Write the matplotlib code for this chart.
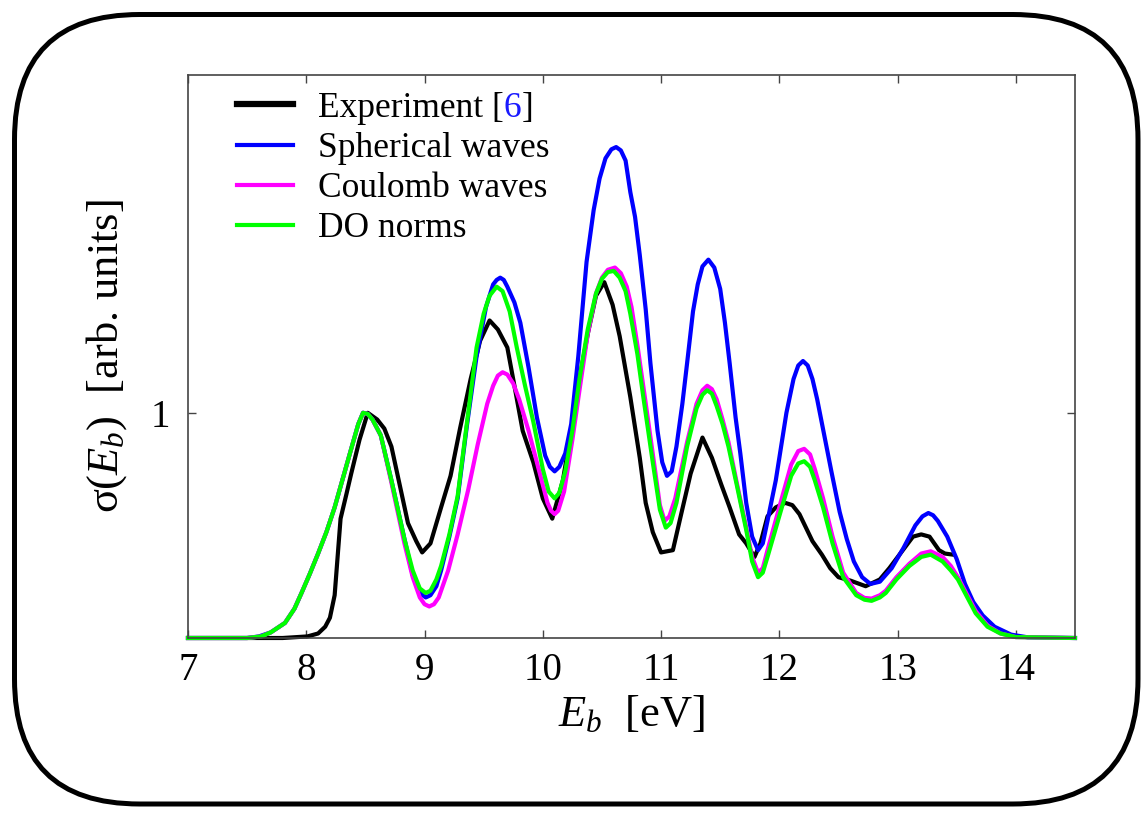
import matplotlib.pyplot as plt
from matplotlib.patches import FancyBboxPatch

plt.rcParams['font.family'] = ['Liberation Serif', 'DejaVu Serif']
plt.rcParams['mathtext.fontset'] = 'custom'
plt.rcParams['mathtext.rm'] = 'Liberation Serif'
plt.rcParams['mathtext.it'] = 'Liberation Serif:italic'

# Experiment [6]
exp_e = [7.0, 7.8, 8.01, 8.10, 8.16, 8.20, 8.24, 8.29, 8.34, 8.38,
         8.45, 8.52, 8.60, 8.66, 8.72, 8.79, 8.86, 8.93, 8.98, 9.05,
         9.14, 9.22, 9.30, 9.39, 9.47, 9.55, 9.62, 9.70, 9.76, 9.83,
         9.92, 10.00, 10.08, 10.17, 10.24, 10.30, 10.38, 10.45, 10.52, 10.59,
         10.65, 10.74, 10.82, 10.87, 10.93, 11.00, 11.10, 11.17, 11.25, 11.35,
         11.43, 11.51, 11.58, 11.66, 11.72, 11.79, 11.84, 11.90, 11.97, 12.05,
         12.11, 12.17, 12.28, 12.36, 12.43, 12.50, 12.60, 12.73, 12.85, 12.93,
         13.03, 13.13, 13.20, 13.27, 13.35, 13.40, 13.47]
exp_sigma = [0, 0, 0.007, 0.02, 0.05, 0.09, 0.19, 0.53, 0.64, 0.73,
             0.88, 1.0, 0.97, 0.93, 0.85, 0.68, 0.51, 0.43, 0.38, 0.42,
             0.58, 0.72, 0.93, 1.15, 1.32, 1.41, 1.37, 1.29, 1.12, 0.92,
             0.78, 0.62, 0.53, 0.70, 0.92, 1.12, 1.35, 1.52, 1.58, 1.48,
             1.34, 1.07, 0.80, 0.60, 0.47, 0.38, 0.39, 0.55, 0.73, 0.89,
             0.80, 0.68, 0.58, 0.46, 0.42, 0.36, 0.42, 0.54, 0.58, 0.60,
             0.59, 0.55, 0.43, 0.37, 0.31, 0.27, 0.255, 0.23, 0.26, 0.31,
             0.38, 0.45, 0.46, 0.45, 0.39, 0.375, 0.37]

# Spherical waves
sph_e = [7.0, 7.5, 7.6, 7.7, 7.82, 7.9, 7.96, 8.03, 8.10, 8.17,
         8.24, 8.31, 8.38, 8.44, 8.48, 8.52, 8.56, 8.63, 8.72, 8.83,
         8.90, 8.96, 9.01, 9.05, 9.10, 9.14, 9.21, 9.28, 9.36, 9.44,
         9.52, 9.58, 9.61, 9.64, 9.67, 9.70, 9.76, 9.81, 9.88, 9.95,
         10.02, 10.06, 10.10, 10.14, 10.19, 10.24, 10.30, 10.37, 10.43, 10.48,
         10.53, 10.58, 10.62, 10.66, 10.70, 10.74, 10.78, 10.82, 10.87, 10.91,
         10.97, 11.01, 11.05, 11.09, 11.13, 11.18, 11.22, 11.27, 11.31, 11.35,
         11.40, 11.45, 11.50, 11.54, 11.58, 11.63, 11.67, 11.72, 11.77, 11.82,
         11.86, 11.90, 11.97, 12.06, 12.12, 12.16, 12.20, 12.24, 12.28, 12.32,
         12.38, 12.44, 12.51, 12.57, 12.63, 12.70, 12.77, 12.85, 12.95, 13.05,
         13.15, 13.21, 13.26, 13.30, 13.34, 13.42, 13.50, 13.57, 13.64, 13.72,
         13.82, 13.96, 14.1, 14.5]
sph_sigma = [0, 0, 0.007, 0.025, 0.067, 0.13, 0.2, 0.285, 0.375, 0.47,
             0.58, 0.71, 0.84, 0.95, 1.0, 0.995, 0.97, 0.90, 0.70, 0.44,
             0.28, 0.20, 0.18, 0.19, 0.23, 0.30, 0.45, 0.62, 0.95, 1.25,
             1.47, 1.57, 1.59, 1.60, 1.59, 1.56, 1.49, 1.40, 1.20, 0.98,
             0.81, 0.76, 0.74, 0.76, 0.82, 0.95, 1.25, 1.67, 1.90, 2.04,
             2.13, 2.17, 2.18, 2.165, 2.12, 1.98, 1.87, 1.70, 1.46, 1.22,
             0.92, 0.78, 0.72, 0.74, 0.85, 1.04, 1.22, 1.45, 1.57, 1.65,
             1.68, 1.645, 1.55, 1.40, 1.22, 0.98, 0.82, 0.60, 0.45, 0.39,
             0.42, 0.52, 0.70, 1.0, 1.15, 1.21, 1.23, 1.21, 1.15, 1.06,
             0.90, 0.74, 0.56, 0.44, 0.34, 0.27, 0.24, 0.25, 0.31, 0.40,
             0.50, 0.54, 0.555, 0.545, 0.52, 0.45, 0.35, 0.24, 0.16, 0.10,
             0.05, 0.015, 0.003, 0]

# Coulomb waves
coul_e = [7.0, 7.5, 7.62, 7.7, 7.82, 7.9, 7.96, 8.03, 8.10, 8.17,
          8.24, 8.31, 8.38, 8.44, 8.48, 8.52, 8.56, 8.63, 8.72, 8.83,
          8.90, 8.96, 9.00, 9.04, 9.08, 9.12, 9.20, 9.28, 9.37, 9.45,
          9.53, 9.58, 9.62, 9.66, 9.70, 9.75, 9.80, 9.88, 9.96, 10.04,
          10.07, 10.10, 10.13, 10.18, 10.25, 10.31, 10.38, 10.45, 10.50, 10.55,
          10.61, 10.66, 10.71, 10.75, 10.80, 10.86, 10.94, 10.99, 11.03, 11.07,
          11.12, 11.22, 11.30, 11.35, 11.39, 11.43, 11.47, 11.52, 11.57, 11.64,
          11.72, 11.77, 11.82, 11.86, 11.90, 12.01, 12.10, 12.16, 12.21, 12.26,
          12.30, 12.37, 12.45, 12.54, 12.65, 12.72, 12.78, 12.85, 12.90, 12.99,
          13.10, 13.20, 13.28, 13.38, 13.45, 13.51, 13.58, 13.66, 13.76, 13.87,
          14.0, 14.5]
coul_sigma = [0, 0, 0.007, 0.025, 0.067, 0.13, 0.2, 0.285, 0.375, 0.47,
              0.58, 0.71, 0.84, 0.95, 1.0, 0.995, 0.97, 0.90, 0.69, 0.42,
              0.27, 0.18, 0.15, 0.14, 0.15, 0.18, 0.30, 0.46, 0.66, 0.86,
              1.04, 1.12, 1.165, 1.18, 1.17, 1.13, 1.06, 0.92, 0.76, 0.60,
              0.565, 0.55, 0.565, 0.65, 0.88, 1.10, 1.35, 1.53, 1.60, 1.635,
              1.645, 1.62, 1.56, 1.47, 1.30, 1.08, 0.78, 0.59, 0.52, 0.54,
              0.62, 0.87, 1.04, 1.10, 1.12, 1.105, 1.06, 0.97, 0.87, 0.69,
              0.49, 0.36, 0.29, 0.31, 0.39, 0.60, 0.77, 0.83, 0.84, 0.815,
              0.75, 0.62, 0.45, 0.29, 0.20, 0.178, 0.175, 0.19, 0.21, 0.27,
              0.33, 0.375, 0.385, 0.36, 0.32, 0.27, 0.20, 0.12, 0.055, 0.02,
              0.004, 0]

# DO norms
do_e = [7.0, 7.5, 7.62, 7.7, 7.82, 7.9, 7.96, 8.03, 8.10, 8.17,
        8.24, 8.31, 8.38, 8.44, 8.48, 8.52, 8.56, 8.63, 8.72, 8.83,
        8.90, 8.96, 9.01, 9.05, 9.10, 9.14, 9.21, 9.28, 9.35, 9.44,
        9.50, 9.55, 9.61, 9.66, 9.72, 9.78, 9.85, 9.92, 10.0, 10.05,
        10.10, 10.14, 10.19, 10.25, 10.31, 10.38, 10.45, 10.50, 10.55, 10.60,
        10.65, 10.70, 10.74, 10.80, 10.85, 10.93, 10.99, 11.04, 11.08, 11.13,
        11.22, 11.30, 11.35, 11.39, 11.43, 11.47, 11.52, 11.57, 11.64, 11.72,
        11.77, 11.82, 11.86, 11.90, 12.01, 12.10, 12.16, 12.21, 12.26, 12.30,
        12.37, 12.45, 12.54, 12.65, 12.72, 12.78, 12.85, 12.90, 12.99, 13.10,
        13.20, 13.28, 13.38, 13.45, 13.51, 13.58, 13.66, 13.76, 13.87, 14.0,
        14.5]
do_sigma = [0, 0, 0.007, 0.025, 0.067, 0.13, 0.2, 0.285, 0.375, 0.47,
            0.58, 0.71, 0.84, 0.95, 1.0, 0.995, 0.97, 0.90, 0.70, 0.44,
            0.30, 0.22, 0.20, 0.21, 0.26, 0.32, 0.46, 0.63, 0.92, 1.29,
            1.44, 1.52, 1.56, 1.54, 1.45, 1.29, 1.12, 0.96, 0.75, 0.65,
            0.62, 0.645, 0.74, 0.92, 1.15, 1.37, 1.53, 1.595, 1.625, 1.63,
            1.60, 1.54, 1.44, 1.26, 1.07, 0.78, 0.57, 0.49, 0.51, 0.60,
            0.85, 1.02, 1.08, 1.10, 1.085, 1.03, 0.95, 0.85, 0.68, 0.48,
            0.34, 0.27, 0.29, 0.36, 0.56, 0.72, 0.775, 0.785, 0.76, 0.70,
            0.58, 0.42, 0.27, 0.19, 0.17, 0.165, 0.18, 0.20, 0.26, 0.32,
            0.36, 0.37, 0.34, 0.30, 0.26, 0.19, 0.11, 0.05, 0.02, 0.004,
            0]

x_ticks = [7, 8, 9, 10, 11, 12, 13, 14]
y_ticks = [1]

W, H = 1146, 813
fig = plt.figure(figsize=(W / 100, H / 100), dpi=100)
ax = fig.add_axes([188 / W, 1 - 638 / H, 887 / W, 563 / H])

lw = 3
ax.plot(exp_e, exp_sigma, color='black', lw=lw, label='Experiment [6]', clip_on=False)
ax.plot(sph_e, sph_sigma, color='#0000ff', lw=lw, label='Spherical waves', clip_on=False)
ax.plot(coul_e, coul_sigma, color='#ff00ff', lw=lw, label='Coulomb waves', clip_on=False)
ax.plot(do_e, do_sigma, color='#00ff00', lw=lw, label='DO norms', clip_on=False)

ax.set_xlim(7, 14.5)
ax.set_ylim(0, 2.5)
ax.set_xticks(x_ticks)
ax.set_yticks(y_ticks)
ax.tick_params(direction='in', length=6, width=1, top=True, right=True,
               labelsize=28, color='#444444')
ax.tick_params(axis='x', pad=10)
ax.tick_params(axis='y', pad=13)
for s in ax.spines.values():
    s.set_color('#444444')
    s.set_linewidth(1.2)

ax.set_xlabel(r'$E_b$  [eV]', fontsize=32)
ax.xaxis.set_label_coords(0.5, -0.10)
ax.set_ylabel(r'σ$\mathit{(E_b)}$  [arb. units]', fontsize=32)
ax.yaxis.set_label_coords(-0.066, 0.5)

leg = ax.legend(loc='upper left', bbox_to_anchor=(0.055, 0.97), frameon=False,
                fontsize=25.5, handlelength=1.6, handletextpad=0.7,
                labelspacing=0.2, borderpad=0, borderaxespad=0)
leg.get_lines()[0].set_linewidth(4.5)

# blue reference number in the first legend entry
fig.canvas.draw()
r = fig.canvas.get_renderer()
t0 = leg.get_texts()[0]
fp = t0.get_fontproperties()
bb = t0.get_window_extent(r)
_, _, desc = r.get_text_width_height_descent('Experiment [6]', fp, ismath=False)
w1, _, _ = r.get_text_width_height_descent('Experiment [', fp, ismath=False)
w2, _, _ = r.get_text_width_height_descent('Experiment [6', fp, ismath=False)
t0.set_text('Experiment [')
fig.text(bb.x0 + w1, bb.y0 + desc, '6', color='#1a1aff', fontproperties=fp,
         transform=None, va='baseline')
fig.text(bb.x0 + w2, bb.y0 + desc, ']', color='black', fontproperties=fp,
         transform=None, va='baseline')

# rounded frame around the whole picture
frame = FancyBboxPatch((0.145, 0.09), 11.235, 7.895,
                       boxstyle='round,pad=0,rounding_size=1.25',
                       transform=fig.dpi_scale_trans, facecolor='none',
                       edgecolor='black', lw=3.6, clip_on=False)
fig.add_artist(frame)

fig.savefig('out.png', dpi=100)
